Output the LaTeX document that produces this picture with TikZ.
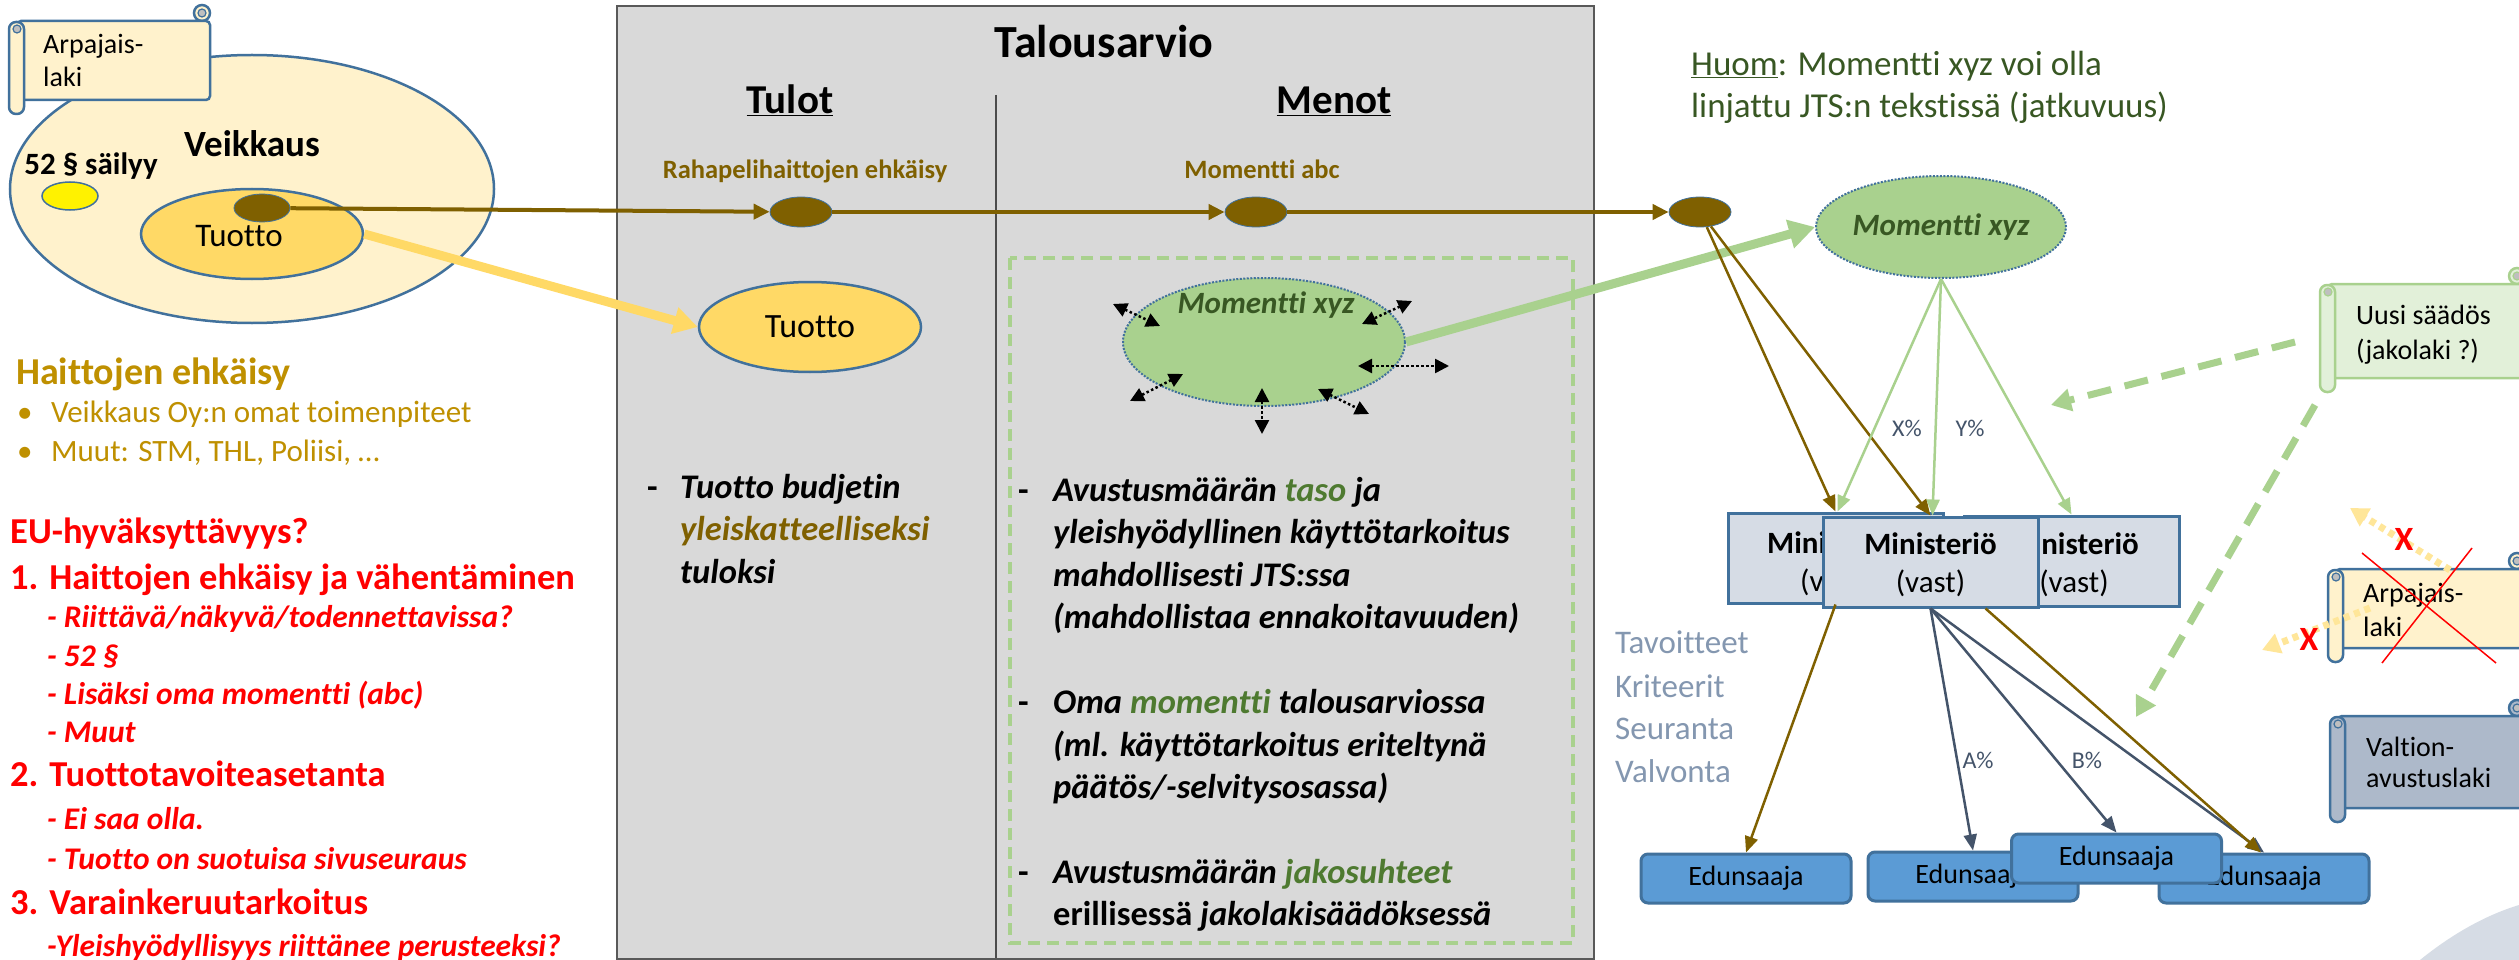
\documentclass[tikz,border=0pt]{standalone}
\usepackage{fontspec}
\setmainfont{Carlito}[Ligatures=NoCommon]
\usetikzlibrary{arrows.meta, shapes.geometric}

\definecolor{veikfill}{HTML}{FFF2CC}
\definecolor{tuotfill}{HTML}{FFD966}
\definecolor{edgeblue}{HTML}{41719C}
\definecolor{ruskea}{HTML}{7F6000}
\definecolor{kulta}{HTML}{BF9000}
\definecolor{boxgray}{HTML}{D9D9D9}
\definecolor{vihrea}{HTML}{A9D18E}
\definecolor{tummavihrea}{HTML}{385723}
\definecolor{olivi}{HTML}{4E7A30}
\definecolor{minfill}{HTML}{D6DCE5}
\definecolor{edufill}{HTML}{5B9BD5}
\definecolor{liuske}{HTML}{44546A}
\definecolor{harmaasini}{HTML}{8497B0}
\definecolor{valtfill}{HTML}{ADB9CA}
\definecolor{uusifill}{HTML}{E2F0D9}
\definecolor{keltapiste}{HTML}{FFE699}
\definecolor{rullaharmaa}{HTML}{BFBFBF}

\newcommand{\fsz}[1]{\fontsize{#1}{#1}\selectfont}
% scroll: left x, body top, right x, body bottom, fill, edge
\newcommand{\kaaro}[6]{%
  \draw[line width=2.5pt, draw=#6, fill=#5] (#3-8,#2-8) circle (8pt);
  \draw[line width=1.2pt, draw=#6, fill=rullaharmaa] (#3-8,#2-8) circle (4pt);
  \draw[line width=2.5pt, draw=#6, fill=#5, rounded corners=4pt] (#1+8,#2) rectangle (#3,#4);
  \draw[line width=2.5pt, draw=#6, fill=#5, rounded corners=7pt] (#1,#2+1) rectangle (#1+15,#4+14);
  \draw[line width=1.2pt, draw=#6, fill=rullaharmaa] (#1+8,#2+8) circle (4pt);
}

\begin{document}
\begin{tikzpicture}[x=1pt, y=-1pt,
    txt/.style={inner sep=0pt, anchor=base west},
    ctxt/.style={inner sep=0pt, anchor=base},
    soikio/.style={ellipse, draw=edgeblue, line width=2.5pt, inner sep=0pt},
    piste/.style={ellipse, draw=edgeblue, line width=0.8pt, fill=ruskea, minimum width=62pt, minimum height=30pt, inner sep=0pt},
    ruskeaviiva/.style={draw=ruskea, line width=4pt, -{Triangle[length=16pt,width=15pt]}},
    ohut/.style={line width=2.5pt, -{Triangle[length=16pt,width=13pt]}},
    minbox/.style={rectangle, draw=edgeblue, fill=minfill, line width=3pt, minimum width=215pt, minimum height=90pt, inner sep=0pt},
    edubox/.style={rectangle, rounded corners=7pt, draw=edgeblue, fill=edufill, line width=3pt, minimum width=210pt, minimum height=49pt, inner sep=0pt, font=\fsz{28}},
    venyta/.style={black, line width=2.5pt, dash pattern=on 2.5pt off 2.5pt, <->, >={Triangle[length=14pt,width=14pt]}},
    katko/.style={vihrea, line width=7pt, dash pattern=on 24pt off 14pt, -{Triangle[length=20pt,width=22pt]}},
    pisteviiva/.style={keltapiste, line width=7pt, dash pattern=on 6pt off 5pt, -{Triangle[length=18pt,width=20pt]}}]

    \useasboundingbox (0,0) rectangle (2519,960);
    \clip (0,0) rectangle (2519,960);
    \fill[white] (0,0) rectangle (2519,960);

    % Corner shape
    \fill[minfill] (2420,960) .. controls (2452,934) and (2486,915) .. (2519,905) -- (2519,960) -- cycle;

    % Budget box
    \node[draw=black!65, fill=boxgray, line width=2pt, rectangle, minimum width=977pt, minimum height=953pt, anchor=north west, inner sep=0pt] (budjetti) at (616,5) {};
    \draw[black!70, line width=1.2pt] (996,95) -- (996,958);
    \draw[vihrea, line width=3.5pt, dash pattern=on 12pt off 7pt] (1010,258) rectangle (1573,943);

    % Veikkaus
    \node[soikio, fill=veikfill, minimum width=484pt, minimum height=268pt] (veikkaus) at (252,189) {};
    \kaaro{9}{21}{210}{100}{veikfill}{edgeblue}
    \node[txt, font=\fsz{28}] (arpa1) at (43,54) {Arpajais-};
    \node[txt, font=\fsz{28}] (arpa2) at (43,87) {laki};
    \node[ctxt, font=\fsz{37}\bfseries] (veiknimi) at (252,157) {Veikkaus};
    \node[ctxt, font=\fsz{31}\bfseries] (pykala) at (91,175) {52 § säilyy};
    \node[soikio, fill=yellow, line width=1.5pt, minimum width=56pt, minimum height=28pt] (keltainen) at (70,196) {};
    \node[soikio, fill=tuotfill, minimum width=222pt, minimum height=90pt] (tuottoV) at (252,234) {};
    \node[ctxt, font=\fsz{33}] (tuottoVt) at (239,247) {Tuotto};
    \node[piste, minimum width=56pt, minimum height=28pt] (pisteV) at (262,208) {};

    % Haittojen ehkaisy
    \node[txt, font=\fsz{38}\bfseries, text=kulta] (haitat) at (16,384) {Haittojen ehkäisy};
    \node[txt, font=\fsz{31}, text=kulta] (luoti1) at (17,422) {•};
    \node[txt, font=\fsz{31}, text=kulta] (keino1) at (51,422) {Veikkaus Oy:n omat toimenpiteet};
    \node[txt, font=\fsz{31}, text=kulta] (luoti2) at (17,461) {•};
    \node[txt, font=\fsz{31}, text=kulta] (keino2) at (51,461) {Muut: STM, THL, Poliisi, …};

    % EU list
    \node[txt, font=\fsz{36.5}\bfseries, text=red] (eu) at (10,543) {EU-hyväksyttävyys?};
    \node[txt, font=\fsz{36.5}\bfseries, text=red] (eu1) at (10,589) {1. Haittojen ehkäisy ja vähentäminen};
    \node[txt, font=\fsz{31.5}\bfseries\itshape, text=red] (eu1a) at (47,627.5) {- Riittävä/näkyvä/todennettavissa?};
    \node[txt, font=\fsz{31.5}\bfseries\itshape, text=red] (eu1b) at (47,666.5) {- 52 §};
    \node[txt, font=\fsz{31.5}\bfseries\itshape, text=red] (eu1c) at (47,704.5) {- Lisäksi oma momentti (abc)};
    \node[txt, font=\fsz{31.5}\bfseries\itshape, text=red] (eu1d) at (47,742.5) {- Muut};
    \node[txt, font=\fsz{36.5}\bfseries, text=red] (eu2) at (10,786) {2. Tuottotavoiteasetanta};
    \node[txt, font=\fsz{31.5}\bfseries\itshape, text=red] (eu2a) at (47,829.5) {- Ei saa olla.};
    \node[txt, font=\fsz{31.5}\bfseries\itshape, text=red] (eu2b) at (47,869.5) {- Tuotto on suotuisa sivuseuraus};
    \node[txt, font=\fsz{36.5}\bfseries, text=red] (eu3) at (10,914) {3. Varainkeruutarkoitus};
    \node[txt, font=\fsz{31.5}\bfseries\itshape, text=red] (eu3a) at (47,956.5) {-Yleishyödyllisyys riittänee perusteeksi?};

    % Talousarvio
    \node[ctxt, font=\fsz{46}\bfseries] (talous) at (1104,58) {Talousarvio};
    \node[ctxt, font=\fsz{41}\bfseries] (tulot) at (790,113.5) {\underline{Tulot}};
    \node[ctxt, font=\fsz{41}\bfseries] (menot) at (1334,113.5) {\underline{Menot}};
    \node[ctxt, font=\fsz{26.5}\bfseries, text=ruskea] (rahapeli) at (805,178.5) {Rahapelihaittojen ehkäisy};
    \node[ctxt, font=\fsz{26.5}\bfseries, text=ruskea] (momabc) at (1262,178.5) {Momentti abc};
    \node[piste] (pisteR) at (801,212) {};
    \node[piste] (pisteM) at (1256,212) {};
    \node[piste] (pisteX) at (1700,212) {};
    \node[soikio, fill=tuotfill, minimum width=222pt, minimum height=90pt, font=\fsz{34}] (tuottoB) at (810,327) {Tuotto};
    \node[soikio, fill=vihrea, line width=2pt, dash pattern=on 2pt off 1.5pt, minimum width=282pt, minimum height=128pt] (momB) at (1264,342) {};
    \node[inner sep=0pt, font=\fsz{31}\bfseries\itshape, text=tummavihrea] (momBt) at (1266,305) {Momentti xyz};

    % Tulot text
    \node[txt, font=\fsz{34.5}\bfseries] (tv0) at (647,498) {-};
    \node[txt, font=\fsz{34.5}\bfseries\itshape] (tv1) at (680,498) {Tuotto budjetin};
    \node[txt, font=\fsz{34.5}\bfseries\itshape, text=ruskea] (tv2) at (680,540.5) {yleiskatteelliseksi};
    \node[txt, font=\fsz{34.5}\bfseries\itshape] (tv3) at (680,583) {tuloksi};

    % Menot text
    \node[txt, font=\fsz{34.5}\bfseries] (mv0) at (1018,501) {-};
    \node[txt, font=\fsz{34.5}\bfseries\itshape] (mv1) at (1053,501) {Avustusmäärän \textcolor{olivi}{taso} ja};
    \node[txt, font=\fsz{34.5}\bfseries\itshape] (mv2) at (1053,543.5) {yleishyödyllinen käyttötarkoitus};
    \node[txt, font=\fsz{34.5}\bfseries\itshape] (mv3) at (1053,586) {mahdollisesti JTS:ssa};
    \node[txt, font=\fsz{34.5}\bfseries\itshape] (mv4) at (1053,628.5) {(mahdollistaa ennakoitavuuden)};
    \node[txt, font=\fsz{34.5}\bfseries] (mw0) at (1018,713.5) {-};
    \node[txt, font=\fsz{34.5}\bfseries\itshape] (mw1) at (1053,713.5) {Oma \textcolor{olivi}{momentti} talousarviossa};
    \node[txt, font=\fsz{34.5}\bfseries\itshape] (mw2) at (1053,756) {(ml. käyttötarkoitus eriteltynä};
    \node[txt, font=\fsz{34.5}\bfseries\itshape] (mw3) at (1053,798.5) {päätös/-selvitysosassa)};
    \node[txt, font=\fsz{34.5}\bfseries] (mx0) at (1018,883.5) {-};
    \node[txt, font=\fsz{34.5}\bfseries\itshape] (mx1) at (1053,883.5) {Avustusmäärän \textcolor{olivi}{jakosuhteet}};
    \node[txt, font=\fsz{34.5}\bfseries\itshape] (mx2) at (1053,925.5) {\upshape erillisessä \itshape jakolakisäädöksessä};

    % Momentti xyz changes
    \draw[venyta] (1113,304) -- (1160,326);
    \draw[venyta] (1412,301) -- (1362,324);
    \draw[venyta] (1358,366) -- (1449,366);
    \draw[venyta] (1318,389) -- (1369,414);
    \draw[venyta] (1262,388) -- (1262,434);
    \draw[venyta] (1183,374) -- (1130,401);

    % Right side
    \node[txt, font=\fsz{35}, text=tummavihrea] (huom1) at (1691,75.5) {\underline{Huom}: Momentti xyz voi olla};
    \node[txt, font=\fsz{35}, text=tummavihrea] (huom2) at (1691,117.5) {linjattu JTS:n tekstissä (jatkuvuus)};
    \node[soikio, fill=vihrea, line width=2pt, dash pattern=on 2pt off 1.5pt, minimum width=250pt, minimum height=102pt, font=\fsz{31}\bfseries\itshape, text=tummavihrea] (momR) at (1941,227) {Momentti xyz};

    \node[txt, font=\fsz{33}, text=harmaasini] (tav1) at (1615,653) {Tavoitteet};
    \node[txt, font=\fsz{33}, text=harmaasini] (tav2) at (1615,697) {Kriteerit};
    \node[txt, font=\fsz{33}, text=harmaasini] (tav3) at (1615,739) {Seuranta};
    \node[txt, font=\fsz{33}, text=harmaasini] (tav4) at (1615,782) {Valvonta};

    % Ministries
    \node[minbox] (min1) at (1835.5,558) {};
    \node[txt, font=\fsz{31}\bfseries] (min1a) at (1767,553) {Mini};
    \node[txt, font=\fsz{31}] (min1b) at (1800,591) {(v};
    \node[minbox] (min3) at (2071.5,561) {};
    \node[inner sep=0pt, anchor=base east, font=\fsz{31}\bfseries] (min3a) at (2139,554) {nisteriö};
    \node[ctxt, font=\fsz{31}] (min3b) at (2074,592) {(vast)};
    \node[minbox] (min2) at (1930.5,562) {};
    \node[ctxt, font=\fsz{31}\bfseries] (min2a) at (1930.5,554) {Ministeriö};
    \node[ctxt, font=\fsz{31}] (min2b) at (1930.5,592) {(vast)};

    % Beneficiaries
    \node[edubox] (edu1) at (1746,878.5) {Edunsaaja};
    \node[edubox] (edu2) at (1973,876.5) {Edunsaaja};
    \node[edubox] (edu4) at (2264,878.5) {Edunsaaja};
    \node[edubox] (edu3) at (2116.5,858.5) {Edunsaaja};

    % Laws
    \kaaro{2320}{284}{2525}{378}{uusifill}{vihrea}
    \node[txt, font=\fsz{28}] (uusi1) at (2356,324) {Uusi säädös};
    \node[txt, font=\fsz{28}] (uusi2) at (2356,359) {(jakolaki ?)};
    \kaaro{2328}{569}{2525}{648}{veikfill}{edgeblue}
    \node[txt, font=\fsz{28}] (arpaR1) at (2363,602) {Arpajais-};
    \node[txt, font=\fsz{28}] (arpaR2) at (2363,636) {laki};
    \kaaro{2330}{716}{2525}{808}{valtfill}{edgeblue}
    \node[txt, font=\fsz{28}] (valt1) at (2366,756) {Valtion-};
    \node[txt, font=\fsz{28}] (valt2) at (2366,787) {avustuslaki};

    % Flows
    \draw[ruskeaviiva] (pisteV) -- (pisteR);
    \draw[ruskeaviiva] (pisteR) -- (pisteM);
    \draw[ruskeaviiva] (pisteM) -- (pisteX);
    \draw[tuotfill, line width=9pt, -{Triangle[length=24pt,width=26pt]}] (tuottoV.east) -- (tuottoB.west);
    \draw[vihrea, line width=9pt, -{Triangle[length=26pt,width=28pt]}] (momB.east) -- (momR.west);

    \draw[ohut, ruskea] (pisteX) -- (min1.north);
    \draw[ohut, ruskea] (pisteX) -- (min2.north);
    \draw[ohut, vihrea] (momR.south) -- ([xshift=2pt]min1.north);
    \draw[ohut, vihrea] (momR.south) -- ([xshift=2pt]min2.north);
    \draw[ohut, vihrea] (momR.south) -- (min3.north);
    \node[ctxt, font=\fsz{24}, text=liuske] (xpros) at (1907,436) {X\%};
    \node[ctxt, font=\fsz{24}, text=liuske] (ypros) at (1970,436) {Y\%};

    \draw[ohut, ruskea] (min1.south) -- (edu1.north);
    \draw[ohut, liuske] (min2.south) -- (edu2.north);
    \draw[ohut, liuske] (min2.south) -- (edu3.north);
    \draw[ohut, liuske] (min2.south) -- (edu4.north);
    \draw[ohut, ruskea] ([xshift=55pt]min2.south) -- ([xshift=-3pt]edu4.north);
    \node[ctxt, font=\fsz{24}, text=liuske] (apros) at (1978,768) {A\%};
    \node[ctxt, font=\fsz{24}, text=liuske] (bpros) at (2087,768) {B\%};

    % New act
    \coordinate (uusiA) at (2295,342);
    \coordinate (kohdeA) at (2051,405);
    \coordinate (uusiB) at (2315,405);
    \coordinate (kohdeB) at (2136,717);
    \draw[katko] (uusiA) -- (kohdeA);
    \draw[katko] (uusiB) -- (kohdeB);

    % Old act removed
    \coordinate (arpaA) at (2450,570);
    \coordinate (hylkA) at (2350,508);
    \coordinate (arpaB) at (2370,608);
    \coordinate (hylkB) at (2262,650);
    \draw[pisteviiva] (arpaA) -- (hylkA);
    \draw[pisteviiva] (arpaB) -- (hylkB);
    \draw[red, line width=1.5pt] (2362,553) -- (2496,663);
    \draw[red, line width=1.5pt] (2472,548) -- (2382,663);
    \node[ctxt, font=\fsz{34}\bfseries, text=red] (ruksi1) at (2404,550) {X};
    \node[ctxt, font=\fsz{34}\bfseries, text=red] (ruksi2) at (2309,650) {X};
\end{tikzpicture}
\end{document}
